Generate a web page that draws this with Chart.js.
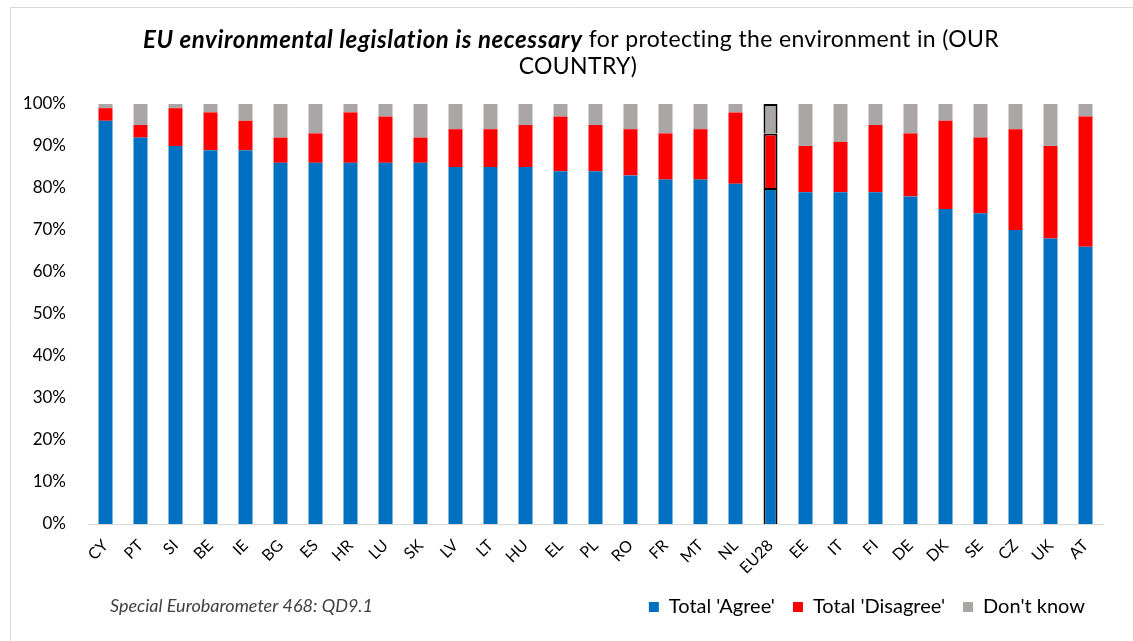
<!DOCTYPE html>
<html>
<head>
<meta charset="utf-8">
<script src="https://cdn.jsdelivr.net/npm/chart.js@4"></script>
<style>
  html, body { margin: 0; padding: 0; background: #fff; }
  #wrap { width: 1133px; height: 641px; position: relative; }
</style>
</head>
<body>
<div id="wrap"><canvas id="legislationChart" width="1133" height="641"></canvas></div>
<script>
// countries, sorted by share agreeing
const countries = ['CY', 'PT', 'SI', 'BE', 'IE', 'BG', 'ES', 'HR', 'LU', 'SK', 'LV', 'LT', 'HU', 'EL', 'PL',
  'RO', 'FR', 'MT', 'NL', 'EU28', 'EE', 'IT', 'FI', 'DE', 'DK', 'SE', 'CZ', 'UK', 'AT'];

const agree = [96, 92, 90, 89, 89, 86, 86, 86, 86, 86, 85, 85, 85, 84, 84,
  83, 82, 82, 81, 80, 79, 79, 79, 78, 75, 74, 70, 68, 66];
const disagree = [3, 3, 9, 9, 7, 6, 7, 12, 11, 6, 9, 9, 10, 13, 11,
  11, 11, 12, 17, 13, 11, 12, 16, 15, 21, 18, 24, 22, 31];
const dontKnow = [1, 5, 1, 2, 4, 8, 7, 2, 3, 8, 6, 6, 5, 3, 5,
  6, 7, 6, 2, 7, 10, 9, 5, 7, 4, 8, 6, 10, 3];

const yTicks = [0, 10, 20, 30, 40, 50, 60, 70, 80, 90, 100];

const titleBold = 'EU environmental legislation is necessary';
const titleRest = 'for protecting the environment in (OUR';
const titleLine2 = 'COUNTRY)';
const sourceNote = 'Special Eurobarometer 468: QD9.1';

const FONT = 'Lato, "Open Sans", sans-serif';

// EU28 gets a black outline
const outline = countries.map((c) => (c === 'EU28' ? '#000' : 'rgba(0,0,0,0)'));
const outlineWidth = countries.map((c) => (c === 'EU28' ? 2 : 0));

const makeSet = (label, data, color) => ({
  label,
  data,
  backgroundColor: color,
  borderColor: outline,
  borderWidth: outlineWidth,
  barPercentage: 0.4,
  categoryPercentage: 1,
});

// title, source line and frame
const decorations = {
  id: 'decorations',
  afterDraw(chart) {
    const { ctx } = chart;
    ctx.save();

    ctx.strokeStyle = '#d9d9d9';
    ctx.lineWidth = 1;
    ctx.beginPath();
    ctx.moveTo(10.5, 645);
    ctx.lineTo(10.5, 7.5);
    ctx.lineTo(1140, 7.5);
    ctx.stroke();

    // title: bold italic lead-in, then plain text
    ctx.fillStyle = '#000';
    ctx.textBaseline = 'middle';
    ctx.textAlign = 'left';
    const boldFont = `italic bold 24px ${FONT}`;
    const plainFont = `23px ${FONT}`;
    ctx.font = boldFont;
    ctx.letterSpacing = '0.6px';
    const wBold = ctx.measureText(titleBold).width;
    ctx.font = plainFont;
    ctx.letterSpacing = '0.35px';
    const wSpace = ctx.measureText(' ').width;
    const wRest = ctx.measureText(titleRest).width;
    let x = 571 - (wBold + wSpace + wRest) / 2;
    ctx.font = boldFont;
    ctx.letterSpacing = '0.6px';
    ctx.fillText(titleBold, x, 40);
    x += wBold + wSpace;
    ctx.font = plainFont;
    ctx.letterSpacing = '0.35px';
    ctx.fillText(titleRest, x, 40);
    ctx.textAlign = 'center';
    ctx.fillText(titleLine2, 578, 67);
    ctx.letterSpacing = '0px';

    ctx.textAlign = 'left';
    ctx.font = `italic 18px ${FONT}`;
    ctx.fillStyle = '#404040';
    ctx.fillText(sourceNote, 110, 606);
    ctx.restore();
  },
};

const ctx = document.getElementById('legislationChart').getContext('2d');
const chart = new Chart(ctx, {
  type: 'bar',
  data: {
    labels: countries,
    datasets: [
      makeSet("Total 'Agree'", agree, '#0070c0'),
      makeSet("Total 'Disagree'", disagree, '#ff0000'),
      makeSet("Don't know", dontKnow, '#aaa6a6'),
    ],
  },
  options: {
    responsive: false,
    animation: false,
    layout: {
      padding: { top: 104, left: 10, right: 30, bottom: 14 },
    },
    scales: {
      x: {
        stacked: true,
        grid: { display: false, drawTicks: false },
        border: { display: true, color: '#d9d9d9', width: 1 },
        ticks: {
          color: '#000',
          font: { family: FONT, size: 16 },
          minRotation: 45,
          maxRotation: 45,
          padding: 12,
          autoSkip: false,
        },
        afterFit(scale) {
          scale.height = 55;
        },
      },
      y: {
        stacked: true,
        min: 0,
        max: 100,
        afterBuildTicks(scale) {
          scale.ticks = yTicks.map((v) => ({ value: v }));
        },
        grid: { display: false, drawTicks: false },
        border: { display: false },
        ticks: {
          color: '#000',
          font: { family: FONT, size: 17 },
          padding: 22,
          callback: (v) => `${v}%`,
        },
        afterFit(scale) {
          scale.width = 78;
        },
      },
    },
    plugins: {
      title: { display: false },
      tooltip: { enabled: false },
      legend: {
        position: 'bottom',
        align: 'end',
        labels: {
          color: '#000',
          font: { family: FONT, size: 20 },
          boxWidth: 10,
          boxHeight: 10,
          padding: 18,
          useBorderRadius: false,
          generateLabels(c) {
            return c.data.datasets.map((ds, i) => ({
              text: ds.label,
              fillStyle: ds.backgroundColor,
              strokeStyle: ds.backgroundColor,
              lineWidth: 0,
              hidden: false,
              datasetIndex: i,
            }));
          },
        },
      },
    },
  },
  plugins: [decorations],
});
</script>
</body>
</html>
